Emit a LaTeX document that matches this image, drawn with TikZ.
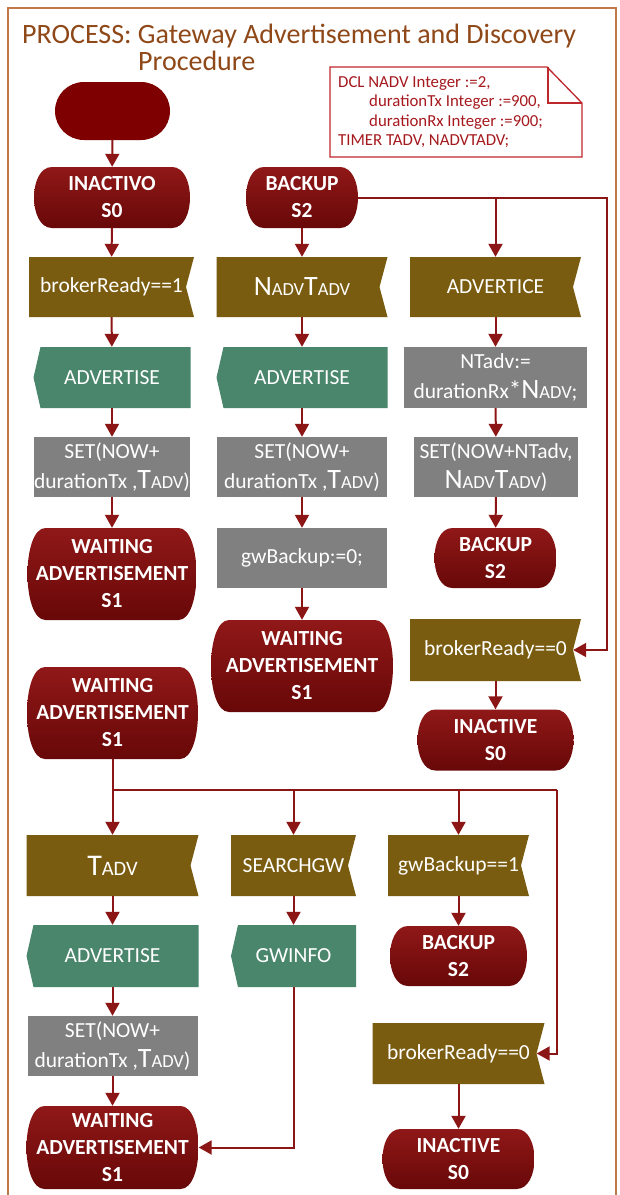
\documentclass[tikz,border=0pt]{standalone}
\usepackage{fontspec}
\setmainfont{Carlito}
\usetikzlibrary{arrows.meta,calc}

\definecolor{stateA}{RGB}{144,24,24}
\definecolor{stateB}{RGB}{104,8,8}
\definecolor{startc}{RGB}{127,0,0}
\definecolor{inputc}{RGB}{122,92,16}
\definecolor{outputc}{RGB}{74,134,108}
\definecolor{taskc}{RGB}{128,128,128}
\definecolor{flowc}{RGB}{140,22,22}
\definecolor{framec}{RGB}{192,120,72}
\definecolor{titlec}{RGB}{143,72,24}
\definecolor{notec}{RGB}{190,40,45}
\definecolor{notetext}{RGB}{165,25,30}

\newcommand\lblfont{\fontsize{21.5}{30}\selectfont}
\newcommand\stfont{\fontsize{21.5}{27}\selectfont\bfseries}
% timer names: first letter large, rest in small capitals
\newcommand\scap[2]{{\fontsize{28}{28}\selectfont #1}{\fontsize{18.5}{18.5}\selectfont #2}}
\newcommand\bigscap[2]{{\fontsize{30}{30}\selectfont #1}{\fontsize{20.5}{20.5}\selectfont #2}}

\tikzset{
  box/.style={rectangle, inner sep=0pt, align=center, text=white, font=\lblfont},
  state/.style={box, font=\stfont, path picture={
    \shade[top color=stateA, bottom color=stateB]
      ([xshift=18pt]path picture bounding box.north west) --
      ([xshift=-18pt]path picture bounding box.north east)
      .. controls ([xshift=6pt]path picture bounding box.north east)
      and ([xshift=6pt]path picture bounding box.south east) ..
      ([xshift=-18pt]path picture bounding box.south east) --
      ([xshift=18pt]path picture bounding box.south west)
      .. controls ([xshift=-6pt]path picture bounding box.south west)
      and ([xshift=-6pt]path picture bounding box.north west) .. cycle;}},
  input/.style={box, path picture={
    \fill[inputc] (path picture bounding box.north west) --
      (path picture bounding box.north east) --
      ([xshift=-8pt]path picture bounding box.east) --
      (path picture bounding box.south east) --
      (path picture bounding box.south west) -- cycle;}},
  output/.style={box, path picture={
    \fill[outputc] ([xshift=7pt]path picture bounding box.north west) --
      (path picture bounding box.north east) --
      (path picture bounding box.south east) --
      ([xshift=7pt]path picture bounding box.south west) --
      (path picture bounding box.west) -- cycle;}},
  task/.style={box, fill=taskc},
  startbox/.style={rectangle, fill=startc, rounded corners=28.9pt},
  flow/.style={draw=flowc, line width=2pt, -{Triangle[length=13pt,width=14pt]}},
  wire/.style={draw=flowc, line width=2pt},
  sz/.style 2 args={minimum width=#1pt, minimum height=#2pt},
}

\begin{document}
\begin{tikzpicture}[x=1pt, y=-1pt]
\useasboundingbox (0,0) rectangle (619,1195);
\fill[white] (0,0) rectangle (619,1195);

% frame and heading
\draw[framec, line width=1.3pt] (8,1195) -- (8,8) -- (616,8) -- (616,1195);
\node[anchor=base west, inner sep=0pt, text=titlec, font=\fontsize{28}{34}\selectfont]
  (title1) at (22,43) {PROCESS: Gateway Advertisement and Discovery};
\node[anchor=base west, inner sep=0pt, text=titlec, font=\fontsize{28}{34}\selectfont]
  (title2) at (138,70) {Procedure};

% declarations
\draw[notec, line width=1.3pt] (330,67) -- (547,67) -- (582,103) -- (582,157) -- (330,157) -- cycle;
\draw[notec, line width=1.3pt] (548,67) -- (548,103) -- (582,103);
\node[anchor=north west, align=left, inner sep=0pt, text=notetext,
  font=\fontsize{16.8}{19.5}\selectfont] (decl) at (338,76)
  {DCL NADV Integer :=2,\\\hspace*{31pt}durationTx Integer :=900,\\
   \hspace*{31pt}durationRx Integer :=900;\\TIMER TADV, NADVTADV;};

% upper part
\node[startbox, sz={115}{58}] (start) at (112.5,111) {};
\node[state, sz={156}{61}] (s0a) at (112,197.5) {INACTIVO\\S0};
\node[state, sz={112}{61}] (s2a) at (302,197.5) {BACKUP\\S2};

\node[input, sz={165}{60}] (in1) at (111.5,287) {brokerReady==1};
\node[input, sz={171}{60}] (in2) at (302,287) {\scap{N}{ADV}\scap{T}{ADV}};
\node[input, sz={171}{60}] (in3) at (495.5,287) {ADVERTICE};

\node[output, sz={157}{61}] (out1) at (112,377.5) {ADVERTISE};
\node[output, sz={171}{61}] (out2) at (302,377.5) {ADVERTISE};
\node[task, sz={183}{61}] (nt) at (495.5,377.5)
  {NTadv:=\\durationRx{\fontsize{25}{25}\selectfont *}\scap{N}{ADV};};

\node[task, sz={156}{60}] (set1) at (112,467) {SET(NOW+\\durationTx ,\scap{T}{ADV})};
\node[task, sz={170}{60}] (set2) at (302,467) {SET(NOW+\\durationTx ,\scap{T}{ADV})};
\node[task, sz={164}{60}] (set3) at (496,467) {SET(NOW+NTadv,\\\scap{N}{ADV}\scap{T}{ADV})};

\node[state, sz={169}{92}] (wait1) at (112,574) {WAITING\\ADVERTISEMENT\\S1};
\node[task, sz={170}{60}] (gw0) at (302,558) {gwBackup:=0;};
\node[state, sz={122}{60}] (s2b) at (495.5,558) {BACKUP\\S2};

\node[input, sz={171}{62}] (in4) at (495.5,650) {brokerReady==0};
\node[state, sz={182}{92}] (wait2) at (302,666) {WAITING\\ADVERTISEMENT\\S1};
\node[state, sz={156}{61}] (s0b) at (495.5,740) {INACTIVE\\S0};

% lower part
\node[state, sz={171}{92}] (wait3) at (112.5,713) {WAITING\\ADVERTISEMENT\\S1};

\node[input, sz={172}{61}] (in5) at (112.5,865.5) {\bigscap{T}{ADV}};
\node[input, sz={125}{61}] (in6) at (293.5,865.5) {SEARCHGW};
\node[input, sz={141}{61}] (in7) at (458.5,865.5) {gwBackup==1};

\node[output, sz={172}{62}] (out5) at (112.5,956) {ADVERTISE};
\node[output, sz={125}{62}] (out6) at (293.5,956) {GWINFO};
\node[state, sz={137}{60}] (s2c) at (458.5,956) {BACKUP\\S2};

\node[task, sz={170}{60}] (set5) at (112.5,1046) {SET(NOW+\\durationTx ,\scap{T}{ADV})};
\node[input, sz={172}{61}] (in8) at (458.5,1053.5) {brokerReady==0};

\node[state, sz={172}{83}] (wait4) at (112.5,1147.5) {WAITING\\ADVERTISEMENT\\S1};
\node[state, sz={152}{60}] (s0c) at (458.5,1159) {INACTIVE\\S0};

% connectors
\draw[flow] (start) -- (s0a);
\draw[flow] (s0a) -- (in1);
\draw[flow] (in1) -- (out1);
\draw[flow] (out1) -- (set1);
\draw[flow] (set1) -- (wait1);

\draw[flow] (s2a) -- (in2);
\draw[flow] (in2) -- (out2);
\draw[flow] (out2) -- (set2);
\draw[flow] (set2) -- (gw0);
\draw[flow] (gw0) -- (wait2);

\coordinate (rbus) at (607,197.5);
\draw[flow] (s2a.east) -- (rbus) |- ([xshift=-8pt]in4.east);
\draw[flow] (in3.north |- rbus) -- (in3.north);
\draw[flow] (in3) -- (nt);
\draw[flow] (nt) -- (set3);
\draw[flow] (set3) -- (s2b);
\draw[flow] (in4) -- (s0b);

\coordinate (lbus) at (557,790);
\draw[wire] (wait3.south |- lbus) -- (lbus);
\draw[flow] (lbus) |- ([xshift=-8pt]in8.east);
\draw[flow] (wait3.south) -- (in5.north);
\draw[flow] (in6.north |- lbus) -- (in6.north);
\draw[flow] (in7.north |- lbus) -- (in7.north);

\draw[flow] (in5) -- (out5);
\draw[flow] (out5) -- (set5);
\draw[flow] (set5) -- (wait4);
\draw[flow] (in6) -- (out6);
\draw[flow] (out6.south) |- (wait4.east);
\draw[flow] (in7) -- (s2c);
\draw[flow] (in8) -- (s0c);
\end{tikzpicture}
\end{document}
